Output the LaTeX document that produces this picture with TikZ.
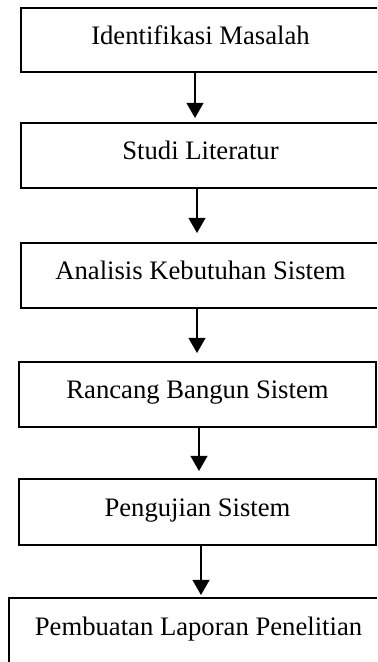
\documentclass[tikz,border=0pt]{standalone}
\usepackage{fontspec}
\setmainfont{Liberation Serif}
\usepackage{tikz}
\usetikzlibrary{arrows.meta}
\usetikzlibrary{calc,shapes}

\tikzset{
	etape/.style={draw,line width=0.8pt,rectangle,inner sep=0pt,
		text height=8pt,text depth=4pt,font=\fontsize{12}{14}\selectfont},
	fleche/.style={->,line width=0.75pt},
	>={Triangle[width=7.6pt,length=6.8pt]}
}

\begin{document}
\begin{tikzpicture}[x=0.45pt,y=-0.45pt]
				\path[use as bounding box,clip] (0,0) rectangle (377,662);
				% Etapes
				\node[etape,minimum width=161.55pt,minimum height=28.8pt] (identifikasi) at (200.5,40) {Identifikasi Masalah};
				\node[etape,minimum width=161.55pt,minimum height=29.25pt] (studi) at (200.5,155.5) {Studi Literatur};
				\node[etape,minimum width=161.55pt,minimum height=29.25pt] (analisis) at (200.5,275.5) {Analisis Kebutuhan Sistem};
				\node[etape,minimum width=160.65pt,minimum height=29.25pt] (rancang) at (197.5,394.5) {Rancang Bangun Sistem};
				\node[etape,minimum width=160.65pt,minimum height=29.7pt] (pengujian) at (197.5,512) {Pengujian Sistem};
				\node[etape,minimum width=170.55pt,minimum height=29.7pt] (laporan) at (198.5,631) {Pembuatan Laporan Penelitian};
				% Fleches
				\coordinate (p1) at (195,118);
				\coordinate (p2) at (197,233);
				\coordinate (p3) at (197,353);
				\coordinate (p4) at (199,471);
				\coordinate (p5) at (201,595);
				\draw[fleche] (identifikasi.south -| p1) -- (p1);
				\draw[fleche] (studi.south -| p2) -- (p2);
				\draw[fleche] (analisis.south -| p3) -- (p3);
				\draw[fleche] (rancang.south -| p4) -- (p4);
				\draw[fleche] (pengujian.south -| p5) -- (p5);
				\end{tikzpicture}
\end{document}
